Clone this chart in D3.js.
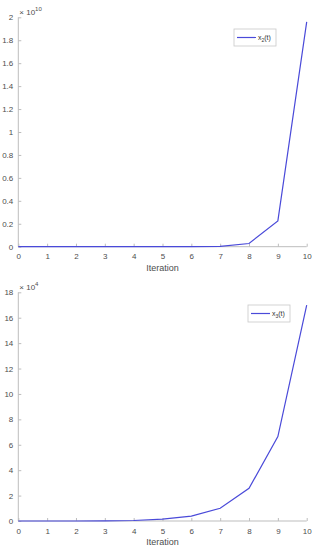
<!DOCTYPE html>
<html>
<head>
<meta charset="utf-8">
<script src="https://cdn.jsdelivr.net/npm/d3@7"></script>
<style>
    body { margin: 0; background: #fff; }
    svg { display: block; font-family: "Liberation Sans", Arial, sans-serif; }
    .tick text { fill: #4d4d4d; font-size: 8px; }
    .axis path, .axis line { stroke: #bdbdbd; }
    .label { fill: #4d4d4d; font-size: 9px; }
</style>
</head>
<body>
<div id="chart"></div>
<script>
    // iterations and series values
    const iterations = [0, 1, 2, 3, 4, 5, 6, 7, 8, 9, 10];
    const x2 = [0, 0, 0, 0, 0, 0.00003, 0.0003, 0.003, 0.028, 0.225, 1.96];   // x 1e10
    const x3 = [0.0001, 0.0004, 0.001, 0.006, 0.04, 0.15, 0.39, 1.0, 2.57, 6.64, 17.0]; // x 1e4
    const xTicks = [0, 1, 2, 3, 4, 5, 6, 7, 8, 9, 10];
    const y2Ticks = [0, 0.2, 0.4, 0.6, 0.8, 1, 1.2, 1.4, 1.6, 1.8, 2];
    const y3Ticks = [0, 2, 4, 6, 8, 10, 12, 14, 16, 18];

    const W = 313, H = 550;
    const svg = d3.select("#chart")
        .append("svg")
        .attr("width", W)
        .attr("height", H);

    const lineColor = "#4a4ad9";

    function panel(cfg) {
        let x = d3.scaleLinear()
            .domain([0, 10])
            .range([18.3, 306.7]);

        let y = d3.scaleLinear()
            .domain([0, cfg.yMax])
            .range([cfg.bottom, cfg.top]);

        let g = svg.append("g");

        // x axis, ticks pointing inward
        g.append("g")
            .attr("class", "axis")
            .attr("transform", `translate(0, ${cfg.bottom})`)
            .call(d3.axisBottom(x).tickValues(xTicks).tickSize(-3).tickPadding(7).tickFormat(d3.format("d")))
            .call(s => s.select(".domain").attr("d", `M${x(0)},0H${x(10)}`));

        // y axis
        g.append("g")
            .attr("class", "axis")
            .attr("transform", `translate(${x(0)}, 0)`)
            .call(d3.axisLeft(y).tickValues(cfg.yTicks).tickSize(-3).tickPadding(5).tickFormat(d => String(d)))
            .call(s => s.select(".domain").attr("d", `M0,${y(0)}V${y(cfg.yMax)}`));

        // exponent label
        let ex = g.append("text")
            .attr("class", "label")
            .attr("x", x(0) + 1)
            .attr("y", cfg.top - 2.5)
            .style("font-size", "8px");
        ex.append("tspan").text("\u00d7 10");
        ex.append("tspan").attr("dy", -4).style("font-size", "6px").text(cfg.exp);

        // x label
        g.append("text")
            .attr("class", "label")
            .attr("text-anchor", "middle")
            .attr("x", (x(0) + x(10)) / 2)
            .attr("y", cfg.bottom + 24)
            .text("Iteration");

        // the series
        let line = d3.line()
            .x((d, i) => x(iterations[i]))
            .y(d => y(d));

        g.append("path")
            .datum(cfg.values)
            .attr("d", line)
            .attr("fill", "none")
            .attr("stroke", lineColor)
            .attr("stroke-width", 1.2);

        // legend
        let lg = g.append("g")
            .attr("transform", `translate(${cfg.legX}, ${cfg.legY})`);
        lg.append("rect")
            .attr("width", 42)
            .attr("height", 17)
            .attr("fill", "#fff")
            .attr("stroke", "#c8c8c8")
            .attr("stroke-width", 0.8);
        lg.append("line")
            .attr("x1", 3).attr("x2", 22)
            .attr("y1", 8.5).attr("y2", 8.5)
            .attr("stroke", lineColor)
            .attr("stroke-width", 1.2);
        let lt = lg.append("text")
            .attr("x", 24)
            .attr("y", 11)
            .attr("fill", "#333")
            .style("font-size", "7px");
        lt.append("tspan").text("x");
        lt.append("tspan").attr("dy", 2).style("font-size", "5px").text(cfg.sub);
        lt.append("tspan").attr("dy", -2).text("(t)");
    }

    panel({ top: 17.3, bottom: 246.7, yMax: 2, yTicks: y2Ticks, values: x2, exp: "10", sub: "2", legX: 234, legY: 29 });
    panel({ top: 292.3, bottom: 521, yMax: 18, yTicks: y3Ticks, values: x3, exp: "4", sub: "3", legX: 248, legY: 305 });
</script>
</body>
</html>
